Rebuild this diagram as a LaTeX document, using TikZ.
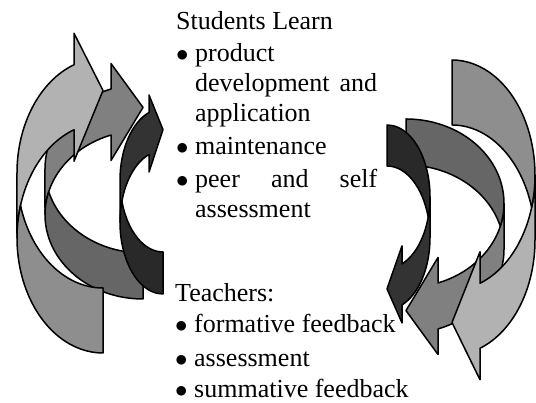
\documentclass[tikz,border=0pt]{standalone}
\usepackage{fontspec}
\setmainfont{Liberation Serif}
\usepackage{tikz}
\definecolor{lightfront}{HTML}{B2B2B2}
\definecolor{lightback}{HTML}{8E8E8E}
\definecolor{midfront}{HTML}{808080}
\definecolor{midback}{HTML}{666666}
\definecolor{darkfront}{HTML}{333333}
\definecolor{darkback}{HTML}{292929}
\tikzset{
  outl/.style={draw=black, line width=1.5pt, line join=round},
  lab/.style={anchor=base west, inner sep=0pt, font=\fontsize{26}{31}\selectfont},
}
\newcommand{\bul}{\makebox[19pt][l]{$\bullet$}}
% #1 placement, #2 width, #3 half height, #4 band, #5 head length, #6 head width, #7/#8 colours
\newcommand{\curlarrow}[8]{%
  \begin{scope}[#1]
    \pgfmathsetmacro\arrPhi{acos(#5/#2)}
    \pgfmathsetmacro\arrDy{#3*sin(\arrPhi)}
    \pgfmathsetmacro\arrDh{(#6-#4)/2}
    \pgfmathsetmacro\arrAlf{asin(#4/(2*#3))}
    \filldraw[outl, fill=#7] (-#2,#3)
      arc[start angle=180, end angle={180-\arrPhi}, x radius=#2pt, y radius=#3pt]
      -- (-#5,{#3+\arrDy-\arrDh}) -- (0,{2*#3+#4/2})
      -- (-#5,{#3+#4+\arrDy+\arrDh}) -- (-#5,{#3+#4+\arrDy})
      arc[start angle={180-\arrPhi}, end angle=180, x radius=#2pt, y radius=#3pt]
      -- cycle; % front face
    \filldraw[outl, fill=#8] (0,0)
      arc[start angle=270, end angle={180-\arrAlf}, x radius=#2pt, y radius=#3pt]
      arc[start angle={180+\arrAlf}, end angle=270, x radius=#2pt, y radius=#3pt]
      -- cycle; % back face
  \end{scope}}

\begin{document}
\begin{tikzpicture}[x=1pt, y=1pt]
  \useasboundingbox[fill=white] (0,0) rectangle (536,403);

  % middle arrows
  \curlarrow{shift={(143,104)}}{98}{84.3}{46}{32}{97}{midfront}{midback}
  \curlarrow{shift={(406,284)}, rotate=180}{98}{84.3}{46}{32}{97}{midfront}{midback}
  % outer arrows
  \curlarrow{shift={(103,50)}}{86}{115}{65}{29}{128}{lightfront}{lightback}
  \curlarrow{shift={(452,343)}, rotate=180}{83}{115}{65}{28}{128}{lightfront}{lightback}
  % inner arrows
  \curlarrow{shift={(163,109)}}{43}{71.7}{42}{14}{77}{darkfront}{darkback}
  \curlarrow{shift={(387,278)}, rotate=180}{43}{71.7}{41}{15}{77}{darkfront}{darkback}

  \node[lab] (stu) at (176,373) {Students Learn};
  \node[lab] (prod) at (176,341) {\bul product};
  \node[lab] (devel) at (195,311) {\makebox[182pt][s]{development and}};
  \node[lab] (appl) at (195,281) {application};
  \node[lab] (maint) at (176,248) {\bul maintenance};
  \node[lab] (peer) at (176,215) {\bul\makebox[182pt][s]{peer and self}};
  \node[lab] (asse) at (195,185) {assessment};

  \node[lab] (teach) at (175,101) {Teachers:};
  \node[lab] (form) at (175,70) {\bul formative feedback};
  \node[lab] (tass) at (175,36) {\bul assessment};
  \node[lab] (summ) at (175,5) {\bul summative feedback};
\end{tikzpicture}
\end{document}
